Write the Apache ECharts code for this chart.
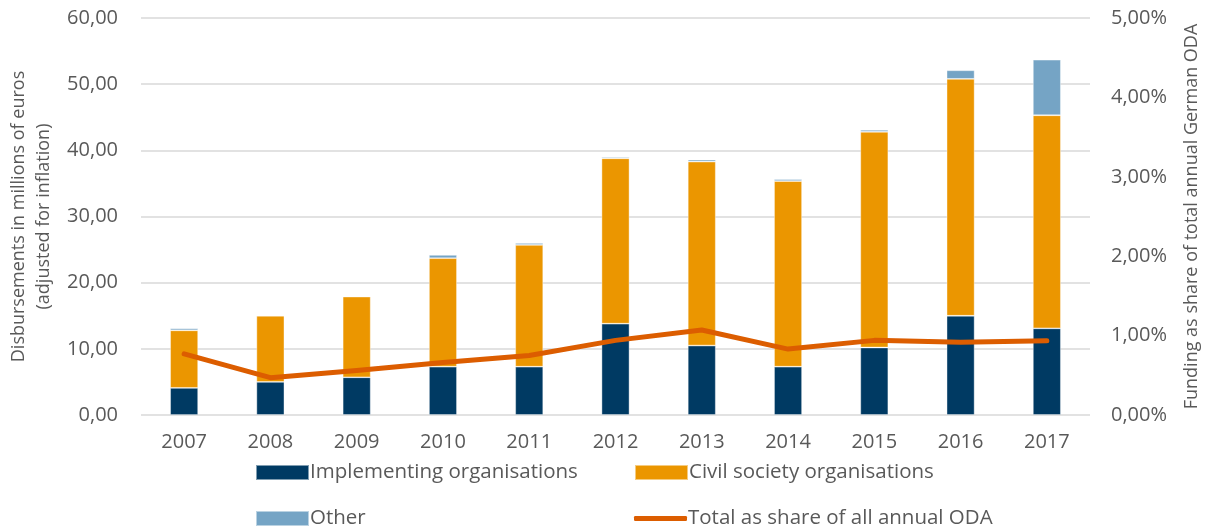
<!DOCTYPE html>
<html>
<head>
<meta charset="utf-8">
<script src="https://cdn.jsdelivr.net/npm/echarts@6/dist/echarts.min.js"></script>
<style>
html,body{margin:0;padding:0;background:#fff;}
#main{width:1206px;height:528px;}
</style>
</head>
<body>
<div id="main"></div>
<script>
var years = ['2007','2008','2009','2010','2011','2012','2013','2014','2015','2016','2017'];
var implementing = [4.1, 5.0, 5.7, 7.3, 7.3, 13.8, 10.5, 7.3, 10.2, 15.0, 13.1];
var civilSociety = [8.7, 10.0, 12.2, 16.4, 18.4, 25.0, 27.8, 28.05, 32.6, 35.8, 32.2];
var other = [0.3, 0.1, 0.1, 0.5, 0.3, 0.2, 0.3, 0.3, 0.3, 1.3, 8.4];
var shareOfOda = [0.77, 0.47, 0.56, 0.66, 0.75, 0.94, 1.07, 0.83, 0.94, 0.915, 0.935];

var font = 'Open Sans';
var txt = '#595959';

function comma(v, d) {
    return v.toFixed(d).replace('.', ',');
}

// one legend per item so each can sit where the original has it
function legendAt(name, left, top, isLine) {
    return {
        data: [name],
        left: left,
        top: top,
        itemWidth: 53,
        itemHeight: isLine ? 5 : 15,
        itemGap: 0,
        textStyle: {color: txt, fontSize: 20.5, fontFamily: font, padding: [0, 0, 0, -4]},
        icon: isLine ? 'roundRect' : 'rect'
    };
}

var myChart = echarts.init(document.getElementById('main'));
var option = {
    animation: false,
    backgroundColor: '#fff',
    grid: {left: 141, right: 116, top: 18, bottom: 113, outerBoundsMode: 'none', containLabel: false},
    legend: [
        legendAt('Implementing organisations', 250, 457, false),
        legendAt('Civil society organisations', 629, 457, false),
        legendAt('Other', 250, 503, false),
        legendAt('Total as share of all annual ODA', 629, 503, true)
    ],
    xAxis: {
        type: 'category',
        data: years,
        axisLine: {show: false},
        axisTick: {show: false},
        axisLabel: {color: txt, fontSize: 20, fontFamily: font, margin: 17}
    },
    yAxis: [
        {
            type: 'value',
            min: 0, max: 60, interval: 10,
            name: 'Disbursements in millions of euros\n(adjusted for inflation)',
            nameLocation: 'middle',
            nameGap: 84,
            nameTextStyle: {color: txt, fontSize: 18, fontFamily: font, lineHeight: 25},
            axisLine: {show: false},
            axisTick: {show: false},
            axisLabel: {color: txt, fontSize: 20, fontFamily: font, margin: 23,
                formatter: function (v) { return comma(v, 2); }},
            splitLine: {lineStyle: {color: '#d9d9d9', width: 1.5}}
        },
        {
            type: 'value',
            min: 0, max: 5, interval: 1,
            name: 'Funding as share of total annual German ODA',
            nameLocation: 'middle',
            nameGap: 93,
            nameRotate: 90,
            nameTextStyle: {color: txt, fontSize: 18, fontFamily: font, verticalAlign: 'top'},
            axisLine: {show: false},
            axisTick: {show: false},
            axisLabel: {color: txt, fontSize: 20, fontFamily: font, margin: 21,
                formatter: function (v) { return comma(v, 2) + '%'; }},
            splitLine: {show: false}
        }
    ],
    series: [
        {
            name: 'Implementing organisations', type: 'bar', stack: 'total', barWidth: 28,
            itemStyle: {color: '#003a63', borderColor: 'rgba(255,255,255,0.5)', borderWidth: 0.8},
            data: implementing
        },
        {
            name: 'Civil society organisations', type: 'bar', stack: 'total', barWidth: 28,
            itemStyle: {color: '#eb9600', borderColor: 'rgba(255,255,255,0.5)', borderWidth: 0.8},
            data: civilSociety
        },
        {
            name: 'Other', type: 'bar', stack: 'total', barWidth: 28,
            itemStyle: {color: '#75a4c5', borderColor: 'rgba(255,255,255,0.5)', borderWidth: 0.8},
            data: other
        },
        {
            name: 'Total as share of all annual ODA', type: 'line', yAxisIndex: 1,
            symbol: 'none',
            lineStyle: {color: '#dc5d00', width: 5, cap: 'round', join: 'round'},
            itemStyle: {color: '#dc5d00'},
            data: shareOfOda
        }
    ]
};
myChart.setOption(option);
</script>
</body>
</html>
